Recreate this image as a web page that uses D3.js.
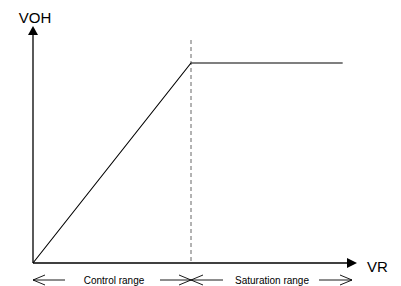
<!DOCTYPE html>
<html>
<head>
<meta charset="utf-8">
<script src="https://cdn.jsdelivr.net/npm/d3@7"></script>
<style>
  body { margin: 0; background: #fff; }
  text { font-family: "Liberation Sans", Arial, sans-serif; fill: #000; }
</style>
</head>
<body>
<div id="chart"></div>
<script>
// curve: VOH rises linearly with VR, then saturates
const vr = [0, 50, 98];
const voh = [0, 1, 1];
const kneeVR = 50;
const axisLabels = ["VOH", "VR"];
const rangeLabels = ["Control range", "Saturation range"];

const width = 401, height = 286;
const svg = d3.select("#chart").append("svg")
  .attr("width", width).attr("height", height);

const x = d3.scaleLinear().domain([0, 100]).range([33, 349]);
const y = d3.scaleLinear().domain([0, 1]).range([263, 63]);

const x0 = x(0), y0 = y(0);
const xEnd = 357, yTop = 26;

// axes with filled arrowheads
svg.append("line").attr("x1", x0).attr("y1", y0).attr("x2", x0).attr("y2", yTop + 8)
  .attr("stroke", "#000").attr("stroke-width", 1.3);
svg.append("path")
  .attr("d", `M${x0},${yTop} L${x0 - 5},${yTop + 9} L${x0 + 5},${yTop + 9} Z`)
  .attr("fill", "#000");
svg.append("line").attr("x1", x0).attr("y1", y0).attr("x2", xEnd - 8).attr("y2", y0)
  .attr("stroke", "#000").attr("stroke-width", 1.3);
svg.append("path")
  .attr("d", `M${xEnd},${y0} L${xEnd - 10},${y0 - 5} L${xEnd - 10},${y0 + 5} Z`)
  .attr("fill", "#000");

svg.append("text").attr("x", x0 + 2).attr("y", 23).attr("text-anchor", "middle")
  .style("font-size", "15px").text(axisLabels[0]);
svg.append("text").attr("x", 367).attr("y", 272)
  .style("font-size", "15px").text(axisLabels[1]);

// dashed divider at the knee
const kx = x(kneeVR);
svg.append("line").attr("x1", kx).attr("y1", 40).attr("x2", kx).attr("y2", y0)
  .attr("stroke", "#666").attr("stroke-width", 1)
  .attr("stroke-dasharray", "4,3");

// curve
const line = d3.line().x((d, i) => x(vr[i])).y((d, i) => y(voh[i]));
svg.append("path").datum(vr).attr("d", line)
  .attr("fill", "none").attr("stroke", "#000").attr("stroke-width", 1.1);

// range arrows under the axis
const ay = 280;
function openHead(tipX, dir) {
  // dir = -1 points left, 1 points right
  svg.append("path")
    .attr("d", `M${tipX - dir * 12},${ay - 5} L${tipX},${ay} L${tipX - dir * 12},${ay + 5}`)
    .attr("fill", "none").attr("stroke", "#000").attr("stroke-width", 0.9);
}
function seg(a, b) {
  svg.append("line").attr("x1", a).attr("y1", ay).attr("x2", b).attr("y2", ay)
    .attr("stroke", "#000").attr("stroke-width", 0.9);
}
seg(x0, 65); openHead(x0, -1);
seg(160, kx); openHead(kx, 1);
seg(kx, 223); openHead(kx, -1);
seg(319, 352); openHead(352, 1);

svg.append("text").attr("x", 114).attr("y", 284).attr("text-anchor", "middle")
  .style("font-size", "10px").text(rangeLabels[0]);
svg.append("text").attr("x", 272).attr("y", 284).attr("text-anchor", "middle")
  .style("font-size", "10px").text(rangeLabels[1]);
</script>
</body>
</html>
